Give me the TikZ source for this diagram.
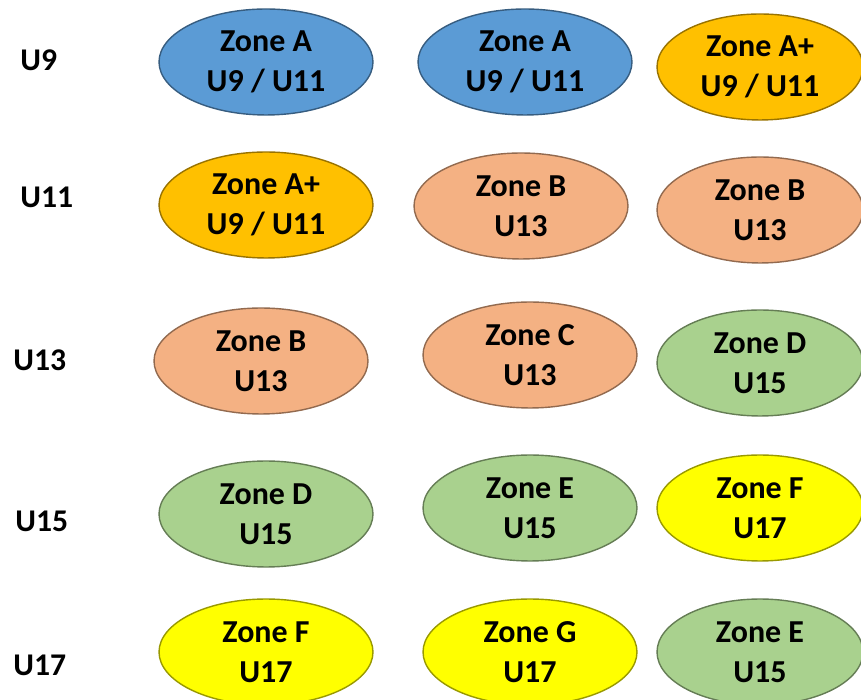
\documentclass[tikz,border=0pt]{standalone}
\usepackage{fontspec}
\setmainfont{Carlito}
\usetikzlibrary{shapes.geometric}
\definecolor{zoneblue}{HTML}{5B9BD5}
\definecolor{zonegold}{HTML}{FFC000}
\definecolor{zonepeach}{HTML}{F4B183}
\definecolor{zonegreen}{HTML}{A9D18E}
\definecolor{zoneyellow}{HTML}{FFFF00}
\begin{document}
\begin{tikzpicture}[x=0.02cm, y=0.02cm,
  zone/.style={ellipse, draw=#1!60!black, fill=#1, line width=0.8pt,
    minimum width=4.28cm, minimum height=2.12cm, inner sep=0pt, align=center,
    font=\bfseries\fontsize{18.2}{22.8}\selectfont},
  agelabel/.style={anchor=west, inner sep=0pt, font=\bfseries\fontsize{18}{22}\selectfont}]
\useasboundingbox (0,0) rectangle (861,699);
\clip (0,0) rectangle (861,699);
% age groups
\node[agelabel] (u9) at (20,639) {U9};
\node[agelabel] (u11) at (20,502) {U11};
\node[agelabel] (u13) at (13,339) {U13};
\node[agelabel] (u15) at (15,178) {U15};
\node[agelabel] (u17) at (13,34) {U17};
% first column
\node[zone=zoneblue] (z11) at (266,637) {Zone A\\U9 / U11};
\node[zone=zonegold] (z21) at (266,494) {Zone A+\\U9 / U11};
\node[zone=zonepeach] (z31) at (261,338) {Zone B\\U13};
\node[zone=zonegreen] (z41) at (266,185) {Zone D\\U15};
\node[zone=zoneyellow] (z51) at (266,47) {Zone F\\U17};
% second column
\node[zone=zoneblue] (z12) at (525,637) {Zone A\\U9 / U11};
\node[zone=zonepeach] (z22) at (521,493) {Zone B\\U13};
\node[zone=zonepeach] (z32) at (530,344) {Zone C\\U13};
\node[zone=zonegreen] (z42) at (530,191) {Zone E\\U15};
\node[zone=zoneyellow] (z52) at (530,47) {Zone G\\U17};
% third column
\node[zone=zonegold, minimum width=4.12cm] (z13) at (760,632) {Zone A+\\U9 / U11};
\node[zone=zonepeach, minimum width=4.12cm] (z23) at (760,489) {Zone B\\U13};
\node[zone=zonegreen, minimum width=4.12cm] (z33) at (760,336) {Zone D\\U15};
\node[zone=zoneyellow, minimum width=4.12cm] (z43) at (760,191) {Zone F\\U17};
\node[zone=zonegreen, minimum width=4.12cm] (z53) at (760,47) {Zone E\\U15};
\end{tikzpicture}
\end{document}
